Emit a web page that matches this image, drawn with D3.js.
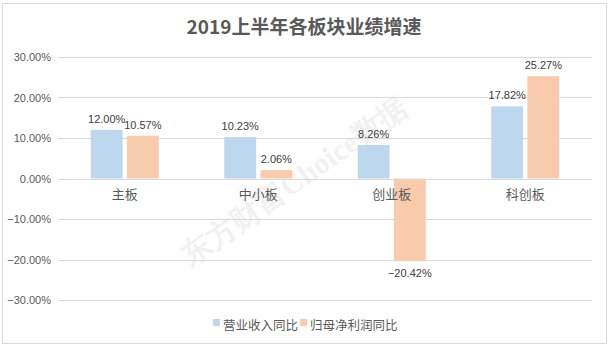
<!DOCTYPE html>
<html><head><meta charset="utf-8">
<script src="https://cdn.jsdelivr.net/npm/d3@7/dist/d3.min.js"></script>
<style>body{margin:0;background:#fff;} svg{display:block;font-family:"Noto Sans CJK SC","Microsoft YaHei",sans-serif;}</style>
</head><body>
<svg id="c" width="610" height="350"></svg>
<script>
const categories = ["主板","中小板","创业板","科创板"];
const seriesNames = ["营业收入同比","归母净利润同比"];
const revenue = [12.00, 10.23, 8.26, 17.82];
const profit = [10.57, 2.06, -20.42, 25.27];
const yTicks = [-30,-20,-10,0,10,20,30];
const colors = ["#BDD7EE","#F8CBAD"];

const svg = d3.select("#c");
svg.append("rect").attr("x",2.5).attr("y",3.5).attr("width",604).attr("height",340)
  .attr("fill","#fff").attr("stroke","#D9D9D9");

svg.append("text").attr("x",304).attr("y",34).attr("text-anchor","middle")
  .attr("font-size",19).attr("font-weight","bold").attr("fill","#595959")
  .text("2019上半年各板块业绩增速");

const y = d3.scaleLinear().domain([-30,30]).range([300,57]);
const x = d3.scaleBand().domain(categories).range([58,592]);
const inner = d3.scaleBand().domain([0,1]).range([0,68]).paddingInner(0.118);

// watermark
svg.append("text").attr("transform","translate(300,190) rotate(-35)")
  .attr("text-anchor","middle").attr("font-size",30).attr("font-weight","bold")
  .attr("font-family","Liberation Serif, serif").attr("fill","#000").attr("opacity",0.05)
  .text("东方财富Choice数据");

// grid
svg.append("g").selectAll("line").data(yTicks).join("line")
  .attr("x1",58).attr("x2",592).attr("y1",d=>Math.round(y(d))+0.5).attr("y2",d=>Math.round(y(d))+0.5)
  .attr("stroke","#D9D9D9").attr("stroke-width",1);

// y axis labels
const yAxis = d3.axisLeft(y).tickValues(yTicks).tickSize(0).tickPadding(0)
  .tickFormat(d=>d3.format(".2f")(d)+"%");
const ga = svg.append("g").attr("transform","translate(51,0)").call(yAxis);
ga.select(".domain").remove();
ga.selectAll("text").attr("font-size",11).attr("fill","#595959")
  .attr("font-family","Liberation Sans, Arial, sans-serif");

const data = [revenue, profit];
data.forEach((vals,si)=>{
  const g = svg.append("g");
  g.selectAll("rect").data(vals).join("rect")
    .attr("x",(d,i)=>x(categories[i]) + (x.bandwidth()-68)/2 + inner(si))
    .attr("width",inner.bandwidth())
    .attr("y",d=>y(Math.max(0,d)))
    .attr("height",d=>Math.abs(y(d)-y(0)))
    .attr("fill",colors[si]);
  g.selectAll("text").data(vals).join("text")
    .attr("x",(d,i)=>x(categories[i]) + (x.bandwidth()-68)/2 + inner(si) + inner.bandwidth()/2)
    .attr("y",d=> d>=0 ? y(d)-7 : y(d)+16)
    .attr("text-anchor","middle").attr("font-size",11).attr("fill","#404040")
    .attr("font-family","Liberation Sans, Arial, sans-serif")
    .text(d=>d3.format(".2f")(d)+"%");
});

// x axis line
svg.append("line").attr("x1",58).attr("x2",592).attr("y1",Math.round(y(0))+0.5).attr("y2",Math.round(y(0))+0.5)
  .attr("stroke","#D9D9D9");
svg.append("g").selectAll("text").data(categories).join("text")
  .attr("x",d=>x(d)+x.bandwidth()/2).attr("y",y(0)+20)
  .attr("text-anchor","middle").attr("font-size",13).attr("fill","#595959").text(d=>d);

// legend
const leg = svg.append("g").attr("transform","translate(213,325)");
const items = [{n:seriesNames[0],c:colors[0],x:0},{n:seriesNames[1],c:colors[1],x:87}];
items.forEach(it=>{
  leg.append("rect").attr("x",it.x).attr("y",-6).attr("width",7).attr("height",7).attr("fill",it.c);
  leg.append("text").attr("x",it.x+10).attr("y",1.5).attr("dominant-baseline","middle")
    .attr("font-size",12.5).attr("fill","#595959").text(it.n);
});
</script>
</body></html>
